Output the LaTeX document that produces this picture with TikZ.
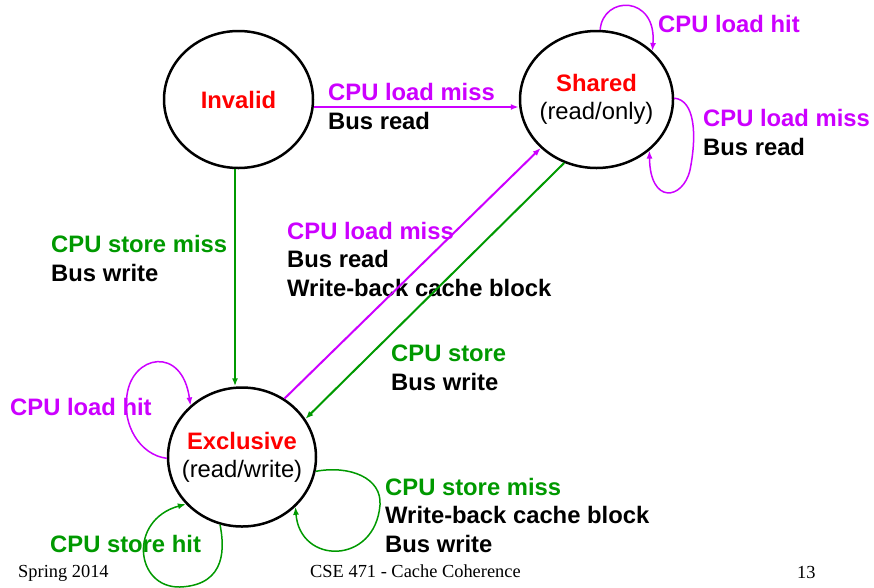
\documentclass[tikz,border=0pt]{standalone}
\usepackage{fontspec}
\setmainfont{Liberation Sans}
\newfontfamily\tnr{Liberation Serif}
\usetikzlibrary{shapes.geometric,arrows.meta}
\definecolor{lpurple}{RGB}{204,0,255}
\definecolor{sgreen}{RGB}{0,153,0}
\definecolor{sred}{RGB}{255,0,0}

\begin{document}
\begin{tikzpicture}[x=1pt, y=-1pt, main/.style={draw, ellipse, line width=2.5pt, minimum width=149pt, minimum height=137pt, inner sep=-20pt, align=center, font=\fontsize{23.8}{28}\selectfont}, info/.style={inner sep=0pt, anchor=base west, align=left, font=\bfseries\fontsize{23.8}{28.5}\selectfont}, foot/.style={inner sep=0pt, anchor=base west, font=\tnr\fontsize{18.4}{22}\selectfont}, n/.style={-{Latex[length=8pt,width=6pt]}, line width=2pt}, lp/.style={-{Latex[length=8pt,width=6pt]}, line width=1.5pt}]
            \useasboundingbox (0,0) rectangle (874,587);
            % nodes
            \node[main] (inv) at (238.5,99.5) {\textcolor{sred}{\bfseries Invalid}};
            \node[main, minimum width=153pt] (sha) at (596.5,99.5) {\textcolor{sred}{\bfseries Shared}\\(read/only)};
            \node[main, minimum width=148pt, minimum height=139pt] (exc) at (242,457) {\textcolor{sred}{\bfseries Exclusive}\\(read/write)};
            % labels (placed at the baseline of their last line)
            \node[info] (invsha) at (328,129) {\textcolor{lpurple}{CPU load miss}\\Bus read};
            \node[info, text=lpurple] (shahit) at (658,32) {CPU load hit};
            \node[info] (shamiss) at (703,155) {\textcolor{lpurple}{CPU load miss}\\Bus read};
            \node[info] (invexc) at (51,281) {\textcolor{sgreen}{CPU store miss}\\Bus write};
            \node[info] (excsha) at (287,296) {\textcolor{lpurple}{CPU load miss}\\Bus read\\Write-back cache block};
            \node[info] (shaexc) at (391,390) {\textcolor{sgreen}{CPU store}\\Bus write};
            \node[info, text=lpurple] (exchit) at (10,415) {CPU load hit};
            \node[info, text=sgreen] (excst) at (50,552) {CPU store hit};
            \node[info] (excmiss) at (385,552) {\textcolor{sgreen}{CPU store miss}\\Write-back cache block\\Bus write};
            % footer
            \node[foot] (date) at (18,577) {Spring 2014};
            \node[foot] (title) at (310,577) {CSE 471 - Cache Coherence};
            \node[foot] (page) at (797,578) {13};
            % edges
            \draw [n, lpurple] ([yshift=-7.5pt]inv.east) -- ([yshift=-7.5pt]sha.west);
            \draw [n, sgreen] ([xshift=-3.5pt]inv.south) -- ([xshift=-7pt]exc.north);
            \draw [n, lpurple] (exc.54) -- (sha.221);
            \draw [n, sgreen] (sha.243) -- (exc.31);
            % loops
            \draw [lp, lpurple] (sha.87) .. controls (603,-5) and (657,-5) .. (sha.41);
            \draw [lp, lpurple] (sha.1) .. controls (695,100) and (697,135) .. (690,170) .. controls (683,200) and (650,205) .. (sha.-44);
            \draw [lp, lpurple] (exc.181) .. controls (140,455) and (122,425) .. (127,395) .. controls (132,355) and (182,345) .. (exc.135);
            \draw [lp, sgreen] (exc.252) .. controls (224,545) and (228,585) .. (180,587) .. controls (135,588) and (128,520) .. (exc.220);
            \draw [lp, sgreen] (exc.-11) .. controls (350,465) and (382,478) .. (380,505) .. controls (375,565) and (300,565) .. (exc.-43);
        \end{tikzpicture}
\end{document}
